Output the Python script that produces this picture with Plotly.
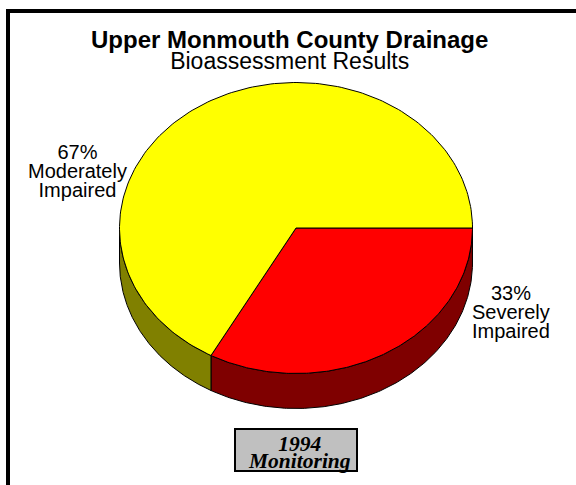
import numpy as np
import plotly.graph_objects as go

# ---- data ----
categories = ["Severely Impaired", "Moderately Impaired"]
values = [33, 67]
label_lines = {
    "Severely Impaired": ["Severely", "Impaired"],
    "Moderately Impaired": ["Moderately", "Impaired"],
}
title_main = "Upper Monmouth County Drainage"
title_sub = "Bioassessment Results"
note_lines = ["1994", "Monitoring"]

# ---- styling / geometry ----
W, H = 576, 485
top_colors = ["#FF0000", "#FFFF00"]
side_colors = ["#7F0000", "#808000"]
cx, cy, rx, ry, depth = 296, 228, 176.5, 145.5, 35

fig = go.Figure()

total = sum(values)
starts = np.cumsum([0] + values[:-1]) / total * 360.0
ends = np.cumsum(values) / total * 360.0

def arc(a0, a1, dy=0.0, n=200):
    t = np.radians(np.linspace(a0, a1, n))
    return cx + rx * np.cos(t), cy + ry * np.sin(t) + dy

# side walls (visible front half: 0..180 deg, clockwise on screen)
for i, (a0, a1) in enumerate(zip(starts, ends)):
    s0, s1 = max(a0, 0), min(a1, 180)
    if s1 > s0:
        xt, yt = arc(s0, s1)
        xb, yb = arc(s0, s1, depth)
        xs = np.concatenate([xt, xb[::-1], xt[:1]])
        ys = np.concatenate([yt, yb[::-1], yt[:1]])
        fig.add_trace(go.Scatter(x=xs, y=ys, mode="lines", fill="toself",
                                 fillcolor=side_colors[i],
                                 line=dict(color="black", width=1),
                                 hoverinfo="skip", showlegend=False))

# top faces
for i, (a0, a1) in enumerate(zip(starts, ends)):
    xa, ya = arc(a0, a1)
    xs = np.concatenate([[cx], xa, [cx]])
    ys = np.concatenate([[cy], ya, [cy]])
    fig.add_trace(go.Scatter(x=xs, y=ys, mode="lines", fill="toself",
                             fillcolor=top_colors[i],
                             line=dict(color="black", width=1),
                             hoverinfo="skip", showlegend=False))

annotations = []
sans = "Liberation Sans, Arial, sans-serif"
serif = "Liberation Serif, Times New Roman, serif"

def sized(text, px):
    return f'<span style="font-size:{px}px">{text}</span>'

def add_block(x, y, lines, base, family=sans):
    # base font size sets the line spacing (1.3 * base); each line carries its own size
    annotations.append(dict(x=x, y=y, xref="x", yref="y", text="<br>".join(lines),
                            showarrow=False, xanchor="center", yanchor="middle",
                            align="center",
                            font=dict(family=family, size=base, color="black")))

# title
add_block(289, 50, ["<b>" + sized(title_main, 24) + "</b>", sized(title_sub, 23)], 15.8)

# slice labels
label_pos = {
    "Severely Impaired": (511, 312),
    "Moderately Impaired": (77, 170.5),
}
for cat, v in zip(categories, values):
    x0, y0 = label_pos[cat]
    lines = [sized(t, 20) for t in [f"{v}%"] + label_lines[cat]]
    add_block(x0, y0, lines, 14.6)

# note box
add_block(299, 452, ["<b><i>" + sized(t, 21.5) + "</i></b>" for t in note_lines], 12.7,
          family=serif)

shapes = [
    dict(type="line", xref="x", yref="y", x0=6, y0=11, x1=W, y1=11,
         line=dict(color="black", width=4)),
    dict(type="line", xref="x", yref="y", x0=8, y0=9, x1=8, y1=H,
         line=dict(color="black", width=4)),
    dict(type="rect", xref="x", yref="y", x0=235, y0=429, x1=357, y1=471,
         line=dict(color="black", width=2), fillcolor="#C0C0C0", layer="below"),
]

fig.update_layout(
    width=W, height=H,
    margin=dict(l=0, r=0, t=0, b=0),
    paper_bgcolor="white", plot_bgcolor="white",
    xaxis=dict(range=[0, W], visible=False, fixedrange=True),
    yaxis=dict(range=[H, 0], visible=False, fixedrange=True),
    annotations=annotations,
    shapes=shapes,
    showlegend=False,
)

fig.write_html("out.html",
               config={"displayModeBar": False},
               post_script="document.body.style.margin='0';document.body.style.overflow='hidden';")
